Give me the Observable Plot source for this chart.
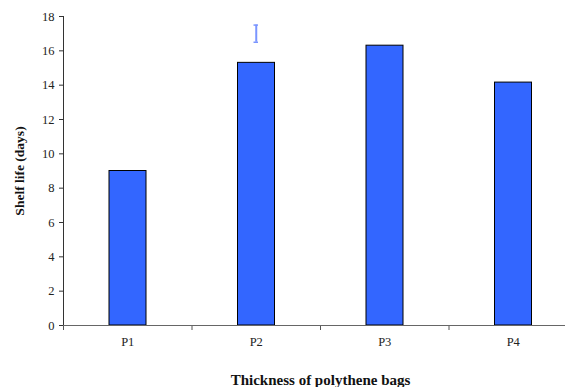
<!DOCTYPE html>
<html>
<head>
<meta charset="utf-8">
<script src="https://cdn.jsdelivr.net/npm/d3@7"></script>
<script src="https://cdn.jsdelivr.net/npm/@observablehq/plot@0.6"></script>
<style>
  html, body { margin: 0; padding: 0; background: #fff; }
  svg { display: block; }
</style>
</head>
<body>
<div id="chart"></div>
<script>
const categories = ["P1", "P2", "P3", "P4"];
const shelfLife = [9.0, 15.3, 16.3, 14.15];
const errLow = [null, 16.5, null, null];
const errHigh = [null, 17.5, null, null];
const yTicks = [0, 2, 4, 6, 8, 10, 12, 14, 16, 18];
const xLabel = "Thickness of polythene bags";
const yLabel = "Shelf life (days)";

const data = categories.map((c, i) => ({cat: c, i, value: shelfLife[i], lo: errLow[i], hi: errHigh[i]}));
const errData = data.filter(d => d.lo != null);

const font = "'Liberation Serif', 'DejaVu Serif', serif";

const chart = Plot.plot({
  width: 565,
  height: 387,
  marginLeft: 63,
  marginRight: -12,
  marginTop: 16,
  marginBottom: 62,
  style: {fontFamily: font, fontSize: "12px", color: "#222", background: "#fff"},
  x: {domain: [0, categories.length], axis: null},
  y: {domain: [0, 18], axis: null},
  marks: [
    Plot.rectY(data, {x1: d => d.i, x2: d => d.i + 1, y: "value", insetLeft: 46, insetRight: 45.5, fill: "#3366ff", stroke: "#000", strokeWidth: 1}),
    Plot.ruleX(errData, {x: d => d.i + 0.5, y1: "lo", y2: "hi", stroke: "#7a95ff", strokeWidth: 2}),
    Plot.ruleY(errData, {y: "lo", x1: d => d.i, x2: d => d.i + 1, insetLeft: 62, insetRight: 62, stroke: "#7a95ff", strokeWidth: 1.5}),
    Plot.ruleY(errData, {y: "hi", x1: d => d.i, x2: d => d.i + 1, insetLeft: 62, insetRight: 62, stroke: "#7a95ff", strokeWidth: 1.5}),
    Plot.axisY({ticks: yTicks, tickSize: 4, tickPadding: 5, label: null, stroke: "#333", fontSize: 12.5}),
    Plot.ruleX([0], {stroke: "#333", strokeWidth: 1}),
    Plot.axisX({ticks: d3.range(0, categories.length + 1), tickSize: 5, tickFormat: () => "", stroke: "#555"}),
    Plot.axisX({ticks: categories.map((c, i) => i + 0.5), tickSize: 0, tickPadding: 12, tickFormat: v => categories[Math.floor(v)], fontSize: 12.5}),
    Plot.ruleY([0], {stroke: "#666", strokeWidth: 1.2}),
    Plot.text([xLabel], {frameAnchor: "bottom", dy: 55, lineAnchor: "middle", fontWeight: "bold", fontSize: 15, fill: "#111"}),
    Plot.text([yLabel], {frameAnchor: "left", dx: -44, rotate: -90, textAnchor: "middle", lineAnchor: "middle", fontWeight: "bold", fontSize: 13.5, fill: "#111"})
  ]
});
document.getElementById("chart").appendChild(chart);
</script>
</body>
</html>
